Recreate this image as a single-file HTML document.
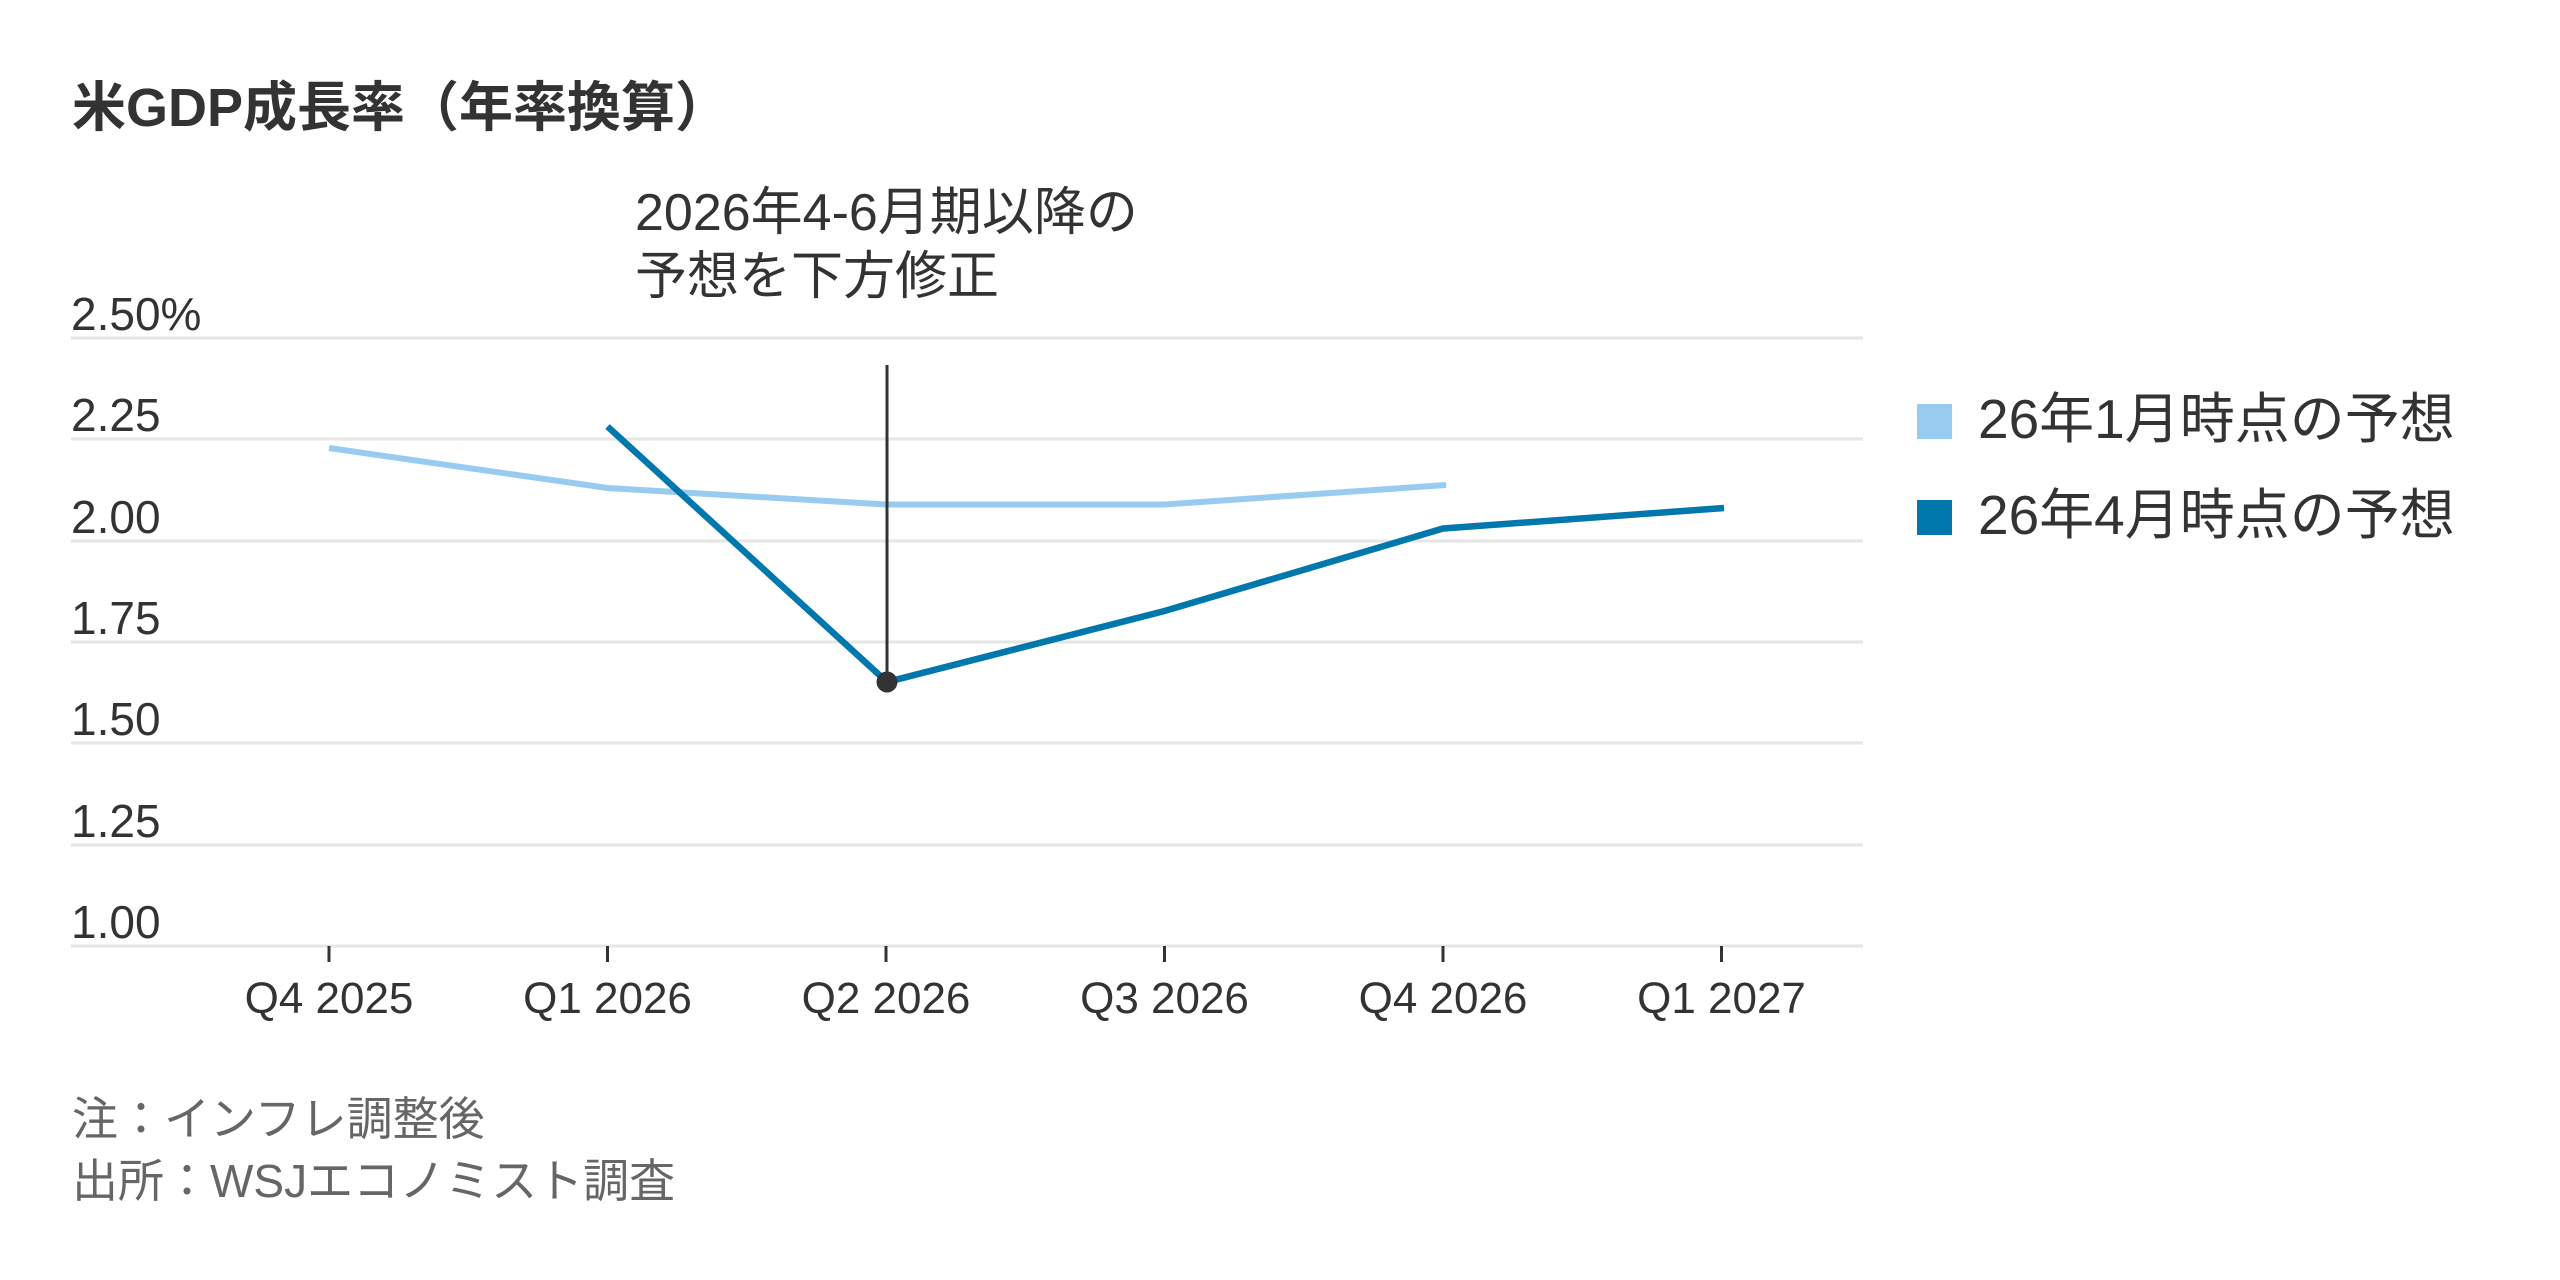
<!DOCTYPE html>
<html><head><meta charset="utf-8"><style>
html,body{margin:0;padding:0;background:#fff}
svg{display:block}
text{font-family:"Liberation Sans","Noto Sans CJK JP",sans-serif}
</style></head><body>
<svg width="2560" height="1280" viewBox="0 0 2560 1280" xmlns="http://www.w3.org/2000/svg">
<rect width="2560" height="1280" fill="#fff"/>
<text x="72" y="126" font-size="54" font-weight="bold" fill="#333">米GDP成長率（年率換算）</text>
<text x="635" y="230" font-size="52" fill="#333">2026年4-6月期以降の</text>
<text x="635" y="294" font-size="52" fill="#333">予想を下方修正</text>
<g stroke="#e6e6e6" stroke-width="3">
<line x1="71" y1="338" x2="1863" y2="338"/>
<line x1="71" y1="439" x2="1863" y2="439"/>
<line x1="71" y1="541" x2="1863" y2="541"/>
<line x1="71" y1="642" x2="1863" y2="642"/>
<line x1="71" y1="743" x2="1863" y2="743"/>
<line x1="71" y1="845" x2="1863" y2="845"/>
<line x1="71" y1="946" x2="1863" y2="946"/>
</g>
<g font-size="46" fill="#333">
<text x="71" y="330">2.50%</text>
<text x="71" y="431">2.25</text>
<text x="71" y="533">2.00</text>
<text x="71" y="634">1.75</text>
<text x="71" y="735">1.50</text>
<text x="71" y="837">1.25</text>
<text x="71" y="938">1.00</text>
</g>
<g stroke="#333" stroke-width="3">
<line x1="329" y1="946" x2="329" y2="962"/>
<line x1="607.5" y1="946" x2="607.5" y2="962"/>
<line x1="886" y1="946" x2="886" y2="962"/>
<line x1="1164.5" y1="946" x2="1164.5" y2="962"/>
<line x1="1443" y1="946" x2="1443" y2="962"/>
<line x1="1721.5" y1="946" x2="1721.5" y2="962"/>
</g>
<g font-size="44" fill="#333" text-anchor="middle">
<text x="329" y="1013">Q4 2025</text>
<text x="607.5" y="1013">Q1 2026</text>
<text x="886" y="1013">Q2 2026</text>
<text x="1164.5" y="1013">Q3 2026</text>
<text x="1443" y="1013">Q4 2026</text>
<text x="1721.5" y="1013">Q1 2027</text>
</g>
<polyline points="329,448 607.5,488 886,504.5 1164.5,504.5 1446,485" fill="none" stroke="#97cbef" stroke-width="6"/>
<line x1="887" y1="365" x2="887" y2="682" stroke="#333" stroke-width="3"/>
<polyline points="607.5,426.5 887,682 1164.5,611 1443,528.5 1724,508" fill="none" stroke="#0077ad" stroke-width="6.5"/>
<circle cx="887" cy="682" r="10.5" fill="#333"/>
<rect x="1917" y="404" width="35" height="35" fill="#97cbef"/>
<rect x="1917" y="500" width="35" height="35" fill="#0077ad"/>
<text x="1978" y="438" font-size="55" fill="#333">26年1月時点の予想</text>
<text x="1978" y="534" font-size="55" fill="#333">26年4月時点の予想</text>
<text x="72" y="1135" font-size="46" fill="#666">注：インフレ調整後</text>
<text x="72" y="1197" font-size="46" fill="#666">出所：WSJエコノミスト調査</text>
</svg>
</body></html>
